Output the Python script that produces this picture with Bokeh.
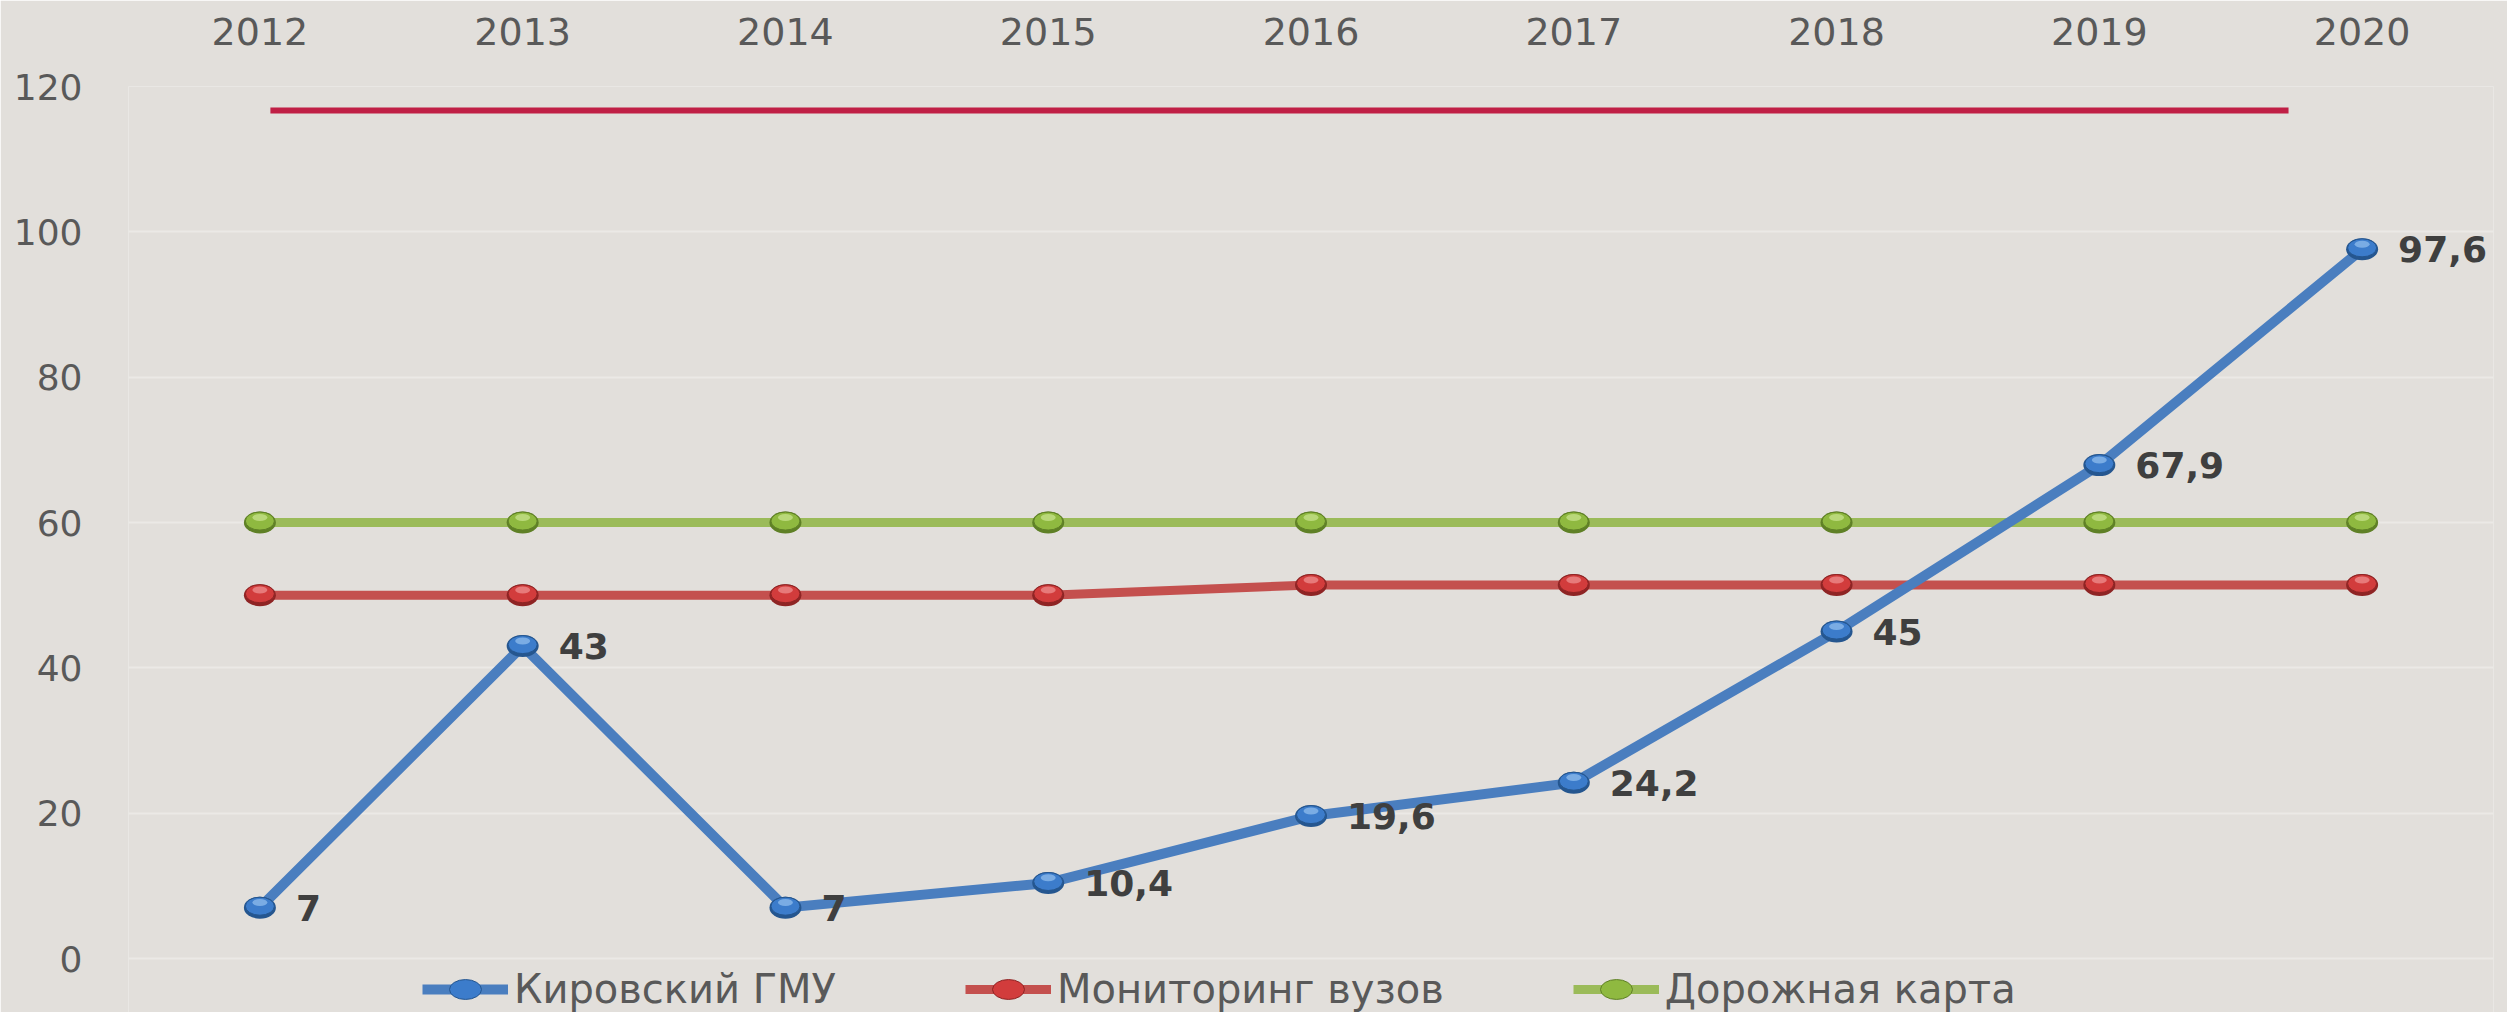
from bokeh.plotting import figure
from bokeh.models import Range1d, FixedTicker, Legend, LegendItem, ColumnDataSource, CustomJSTickFormatter
from bokeh.transform import dodge
from bokeh.embed import file_html
from bokeh.resources import INLINE
from bokeh.core.properties import value

# ---- data ----
years = [2012, 2013, 2014, 2015, 2016, 2017, 2018, 2019, 2020]
gmu = [7, 43, 7, 10.4, 19.6, 24.2, 45, 67.9, 97.6]
monitoring = [50, 50, 50, 50, 51.4, 51.4, 51.4, 51.4, 51.4]
roadmap = [60, 60, 60, 60, 60, 60, 60, 60, 60]
series_names = ["Кировский ГМУ", "Мониторинг вузов", "Дорожная карта"]
y_ticks = [0, 20, 40, 60, 80, 100, 120]
# decorative accent bar of the slide (crimson rule near the top)
accent_x = [2012.04, 2019.72]
accent_y = [116.7, 116.7]

gmu_labels = [f"{v:g}".replace(".", ",") for v in gmu]

FONT = "DejaVu Sans"
BG = "#e2dfdb"

# frame extends below 0 to leave room for the legend strip
p = figure(width=2507, height=1012,
           x_range=Range1d(2011.5, 2020.5), y_range=Range1d(-7.43, 120),
           x_axis_location="above",
           output_backend="svg", toolbar_location=None,
           min_border_left=128, min_border_right=14,
           min_border_top=86, min_border_bottom=0,
           background_fill_color=BG, border_fill_color=BG,
           outline_line_color=None)

# axes
for ax in (p.xaxis[0], p.yaxis[0]):
    ax.axis_line_color = None
    ax.major_tick_line_color = None
    ax.minor_tick_line_color = None
    ax.major_tick_out = 0
    ax.major_tick_in = 0
    ax.minor_tick_out = 0
    ax.major_label_text_font = FONT
    ax.major_label_text_color = "#595959"

p.xaxis.ticker = FixedTicker(ticks=years)
p.xaxis.major_label_text_font_size = "38px"
p.xaxis.major_label_standoff = 42
p.xaxis.formatter = CustomJSTickFormatter(code="return tick.toFixed(0);")

p.yaxis.ticker = FixedTicker(ticks=y_ticks)
p.yaxis.major_label_text_font_size = "36px"
p.yaxis.major_label_standoff = 46

p.xgrid.grid_line_color = None
p.ygrid.grid_line_color = "#ebe9e6"
p.ygrid.grid_line_width = 2

# accent rule
p.line(accent_x, accent_y, line_color="#c01f45", line_width=6)

# series
colors_line = ["#4a7ebf", "#c4504e", "#9bbb59"]
line_widths = [10, 9, 9]
colors_base = ["#25568f", "#8e2424", "#5f8026"]
colors_mark = ["#3c7ccb", "#d23c3c", "#8fb940"]
colors_hi = ["#a3cdf5", "#f5a3a3", "#d6eca0"]

src_g = ColumnDataSource(dict(x=years, y=gmu, t=gmu_labels))
src_m = ColumnDataSource(dict(x=years, y=monitoring))
src_r = ColumnDataSource(dict(x=years, y=roadmap))

renders = {}
for idx, src in ((2, src_r), (1, src_m), (0, src_g)):
    ln = p.line("x", "y", source=src, line_color=colors_line[idx], line_width=line_widths[idx])
    renders[idx] = [ln]

for idx, src in ((2, src_r), (1, src_m), (0, src_g)):
    p.ellipse("x", "y", source=src, width=32, height=22,
              width_units="screen", height_units="screen",
              fill_color=colors_base[idx], line_color=None)
    mk = p.ellipse("x", dodge("y", 0.2, range=p.y_range), source=src, width=29, height=18,
                   width_units="screen", height_units="screen",
                   fill_color=colors_mark[idx], line_color=colors_base[idx], line_width=1)
    p.ellipse("x", dodge("y", 0.7, range=p.y_range), source=src, width=15, height=7,
              width_units="screen", height_units="screen",
              fill_color=colors_hi[idx], fill_alpha=0.6, line_color=None)
    renders[idx].append(mk)

p.text("x", "y", text="t", source=src_g, x_offset=36,
       text_align="left", text_baseline="middle",
       text_font=value(FONT), text_font_style="bold",
       text_font_size="36px", text_color="#3f3f3f")

items = [LegendItem(label=series_names[i], renderers=renders[i]) for i in range(3)]

legend = Legend(items=items, orientation="horizontal", location=(294, 0),
                padding=0, margin=0, spacing=129,
                glyph_width=86, glyph_height=40, label_standoff=6,
                label_text_font=FONT, label_text_font_size="40px",
                label_text_color="#595959",
                background_fill_alpha=0, border_line_color=None)
p.add_layout(legend, "center")

open("out.html", "w").write(file_html(p, INLINE))
